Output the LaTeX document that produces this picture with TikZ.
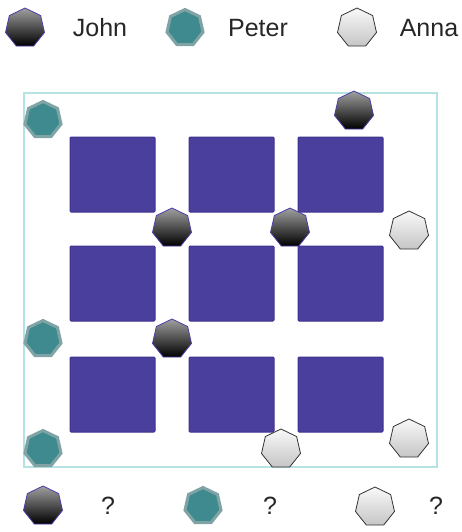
\documentclass[tikz,border=0pt]{standalone}
\usepackage{fontspec}
\setmainfont{Liberation Sans}
\usetikzlibrary{shapes.geometric}

\definecolor{blockcol}{HTML}{4B3F9E}
\definecolor{blockedge}{HTML}{3F338F}
\definecolor{framecol}{HTML}{B5E2E2}
\definecolor{peterfill}{HTML}{3E8A8E}
\definecolor{peteredge}{HTML}{80A3A5}
\definecolor{johnedge}{HTML}{4A3FA8}

\tikzset{
  piece/.style={regular polygon, regular polygon sides=7, minimum size=40pt, inner sep=0pt},
  john/.style={piece, draw=johnedge, line width=0.8pt, top color=gray!75, bottom color=black},
  peter/.style={piece, minimum size=37pt, draw=peteredge, line width=3pt, fill=peterfill},
  anna/.style={piece, draw=black!80, line width=0.8pt, top color=gray!5, bottom color=gray!45},
  plabel/.style={font=\fontsize{25}{30}\selectfont, text=black!85},
  block/.style={fill=blockcol, draw=blockedge, line width=1pt, rounded corners=1pt}
}

\begin{document}
\begin{tikzpicture}[x=1pt, y=-1pt]
  \useasboundingbox (0,0) rectangle (462,532);
  % Legend
  \node[john]   (legjohn)  at (25,28)  {};
  \node[plabel] (txtjohn)  at (100,28) {John};
  \node[peter]  (legpeter) at (185,28) {};
  \node[plabel] (txtpeter) at (258,28) {Peter};
  \node[anna]   (leganna)  at (357,28) {};
  \node[plabel] (txtanna)  at (429,28) {Anna};
  % Board
  \draw[framecol, line width=2pt] (24,93) rectangle (437,467);
  \foreach \cx in {70,189,298}{
    \foreach \cy in {137,246,357}{
      \draw[block] (\cx,\cy) rectangle ++(85,75);
    }
  }
  % Pieces on the board
  \node[peter] (p1) at (43,120) {};
  \node[peter] (p2) at (43,339) {};
  \node[peter] (p3) at (43,449) {};
  \node[john]  (j1) at (354,111) {};
  \node[john]  (j2) at (172,228) {};
  \node[john]  (j3) at (290,228) {};
  \node[john]  (j4) at (172,339) {};
  \node[anna]  (a1) at (409,231) {};
  \node[anna]  (a2) at (281,449) {};
  \node[anna]  (a3) at (409,439) {};
  % Question row
  \node[john]   (qjohn)  at (43,506)  {};
  \node[plabel] (qj)     at (108,506) {?};
  \node[peter]  (qpeter) at (203,506) {};
  \node[plabel] (qp)     at (270,506) {?};
  \node[anna]   (qanna)  at (375,507) {};
  \node[plabel] (qa)     at (436,506) {?};
\end{tikzpicture}
\end{document}
